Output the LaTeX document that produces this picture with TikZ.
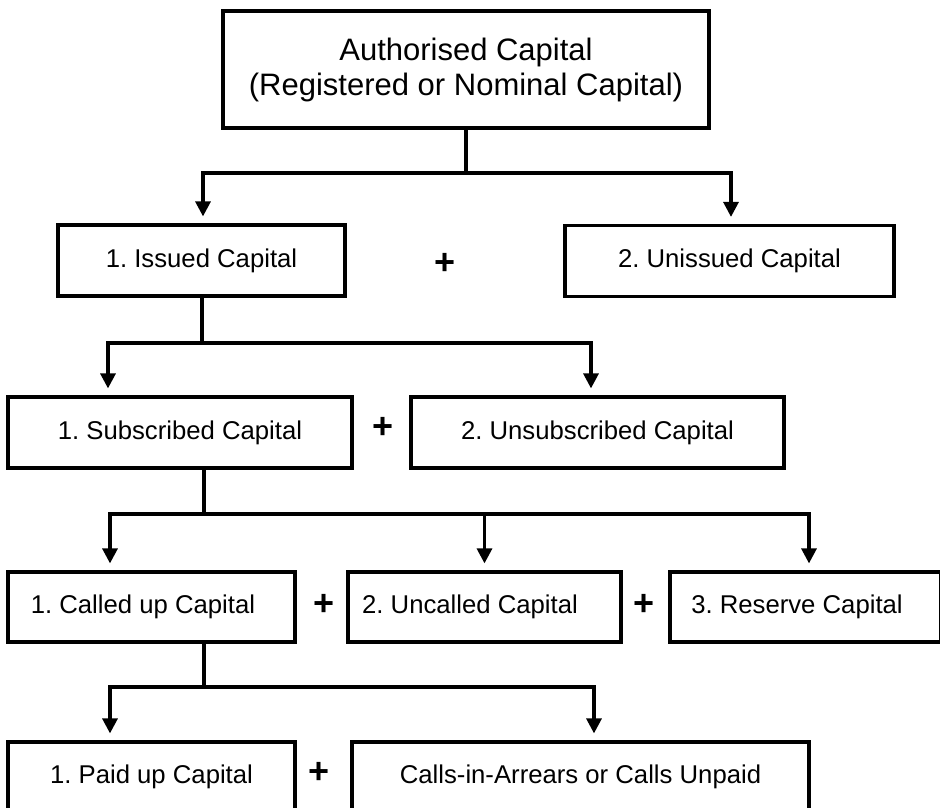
\documentclass[tikz,border=0pt]{standalone}
\usepackage{fontspec}
\setmainfont{Liberation Sans}
\usetikzlibrary{arrows.meta}
\frenchspacing
\begin{document}
\begin{tikzpicture}[x=1pt,y=-1pt,
  box/.style={draw, line width=3.2pt, inner sep=0pt, minimum height=71pt, font=\fontsize{25.7pt}{30pt}\selectfont},
  ln/.style={line width=3.2pt},
  arr/.style={line width=3.2pt, -{Triangle[length=15pt,width=15pt]}, shorten >=7pt},
  plus/.style={font=\fontsize{36pt}{36pt}\selectfont\bfseries, inner sep=0pt}]
\useasboundingbox (0,0) rectangle (940,808);
\fill[white] (0,0) rectangle (940,808);
\clip (0,0) rectangle (940,808);

\node[box, minimum width=486pt, minimum height=117pt, align=center, font=\fontsize{31pt}{35pt}\selectfont] (top) at (466,69.5) {Authorised Capital\\(Registered or Nominal Capital)};
\node[box, minimum width=287pt] (issued) at (201.5,260.5) {1. Issued Capital};
\node[box, minimum width=329pt] (unissued) at (729.5,261) {2. Unissued Capital};
\node[box, minimum width=344pt] (sub) at (180,432.5) {1. Subscribed Capital};
\node[box, minimum width=373pt] (unsub) at (597.5,432.5) {2. Unsubscribed Capital};
\node[box, minimum width=287pt, minimum height=70pt] (called) at (151.5,607) {1. Called up Capital\hspace*{17pt}};
\node[box, minimum width=273pt, minimum height=70pt] (uncalled) at (484.5,607) {2. Uncalled Capital\hspace*{29pt}};
\node[box, minimum width=271pt, minimum height=70pt] (reserve) at (805.5,607) {3. Reserve Capital\hspace*{17pt}};
\node[box, minimum width=287pt, minimum height=70pt] (paid) at (151.5,777) {1. Paid up Capital};
\node[box, minimum width=457pt, minimum height=70pt] (calls) at (580.5,777) {Calls-in-Arrears or Calls Unpaid};

\node[plus] (p1) at (445,264) {+};
\node[plus] (p2) at (383,428) {+};
\node[plus] (p3) at (324,605) {+};
\node[plus] (p4) at (644,605) {+};
\node[plus] (p5) at (319,773) {+};

\coordinate (j1) at (466,173);
\draw[ln] (top.south) -- (j1);
\draw[arr] (j1) -| ([xshift=1.5pt]issued.north);
\draw[arr] (j1) -| ([xshift=1.5pt]unissued.north);
\coordinate (j2) at (202,343);
\draw[ln] ([xshift=0.5pt]issued.south) -- (j2);
\draw[arr] (j2) -| ([xshift=-72pt]sub.north);
\draw[arr] (j2) -| ([xshift=-6.5pt]unsub.north);
\coordinate (j3) at (204,514);
\draw[ln] ([xshift=24pt]sub.south) -- (j3);
\draw[arr] (j3) -| ([xshift=-41.5pt]called.north);
\draw[arr] (j3) -| (uncalled.north);
\draw[arr] (j3) -| ([xshift=3.5pt]reserve.north);
\coordinate (j4) at (204,687);
\draw[ln] ([xshift=52.5pt]called.south) -- (j4);
\draw[arr] (j4) -| ([xshift=-41.5pt]paid.north);
\draw[arr] (j4) -| ([xshift=13.5pt]calls.north);
\end{tikzpicture}
\end{document}
